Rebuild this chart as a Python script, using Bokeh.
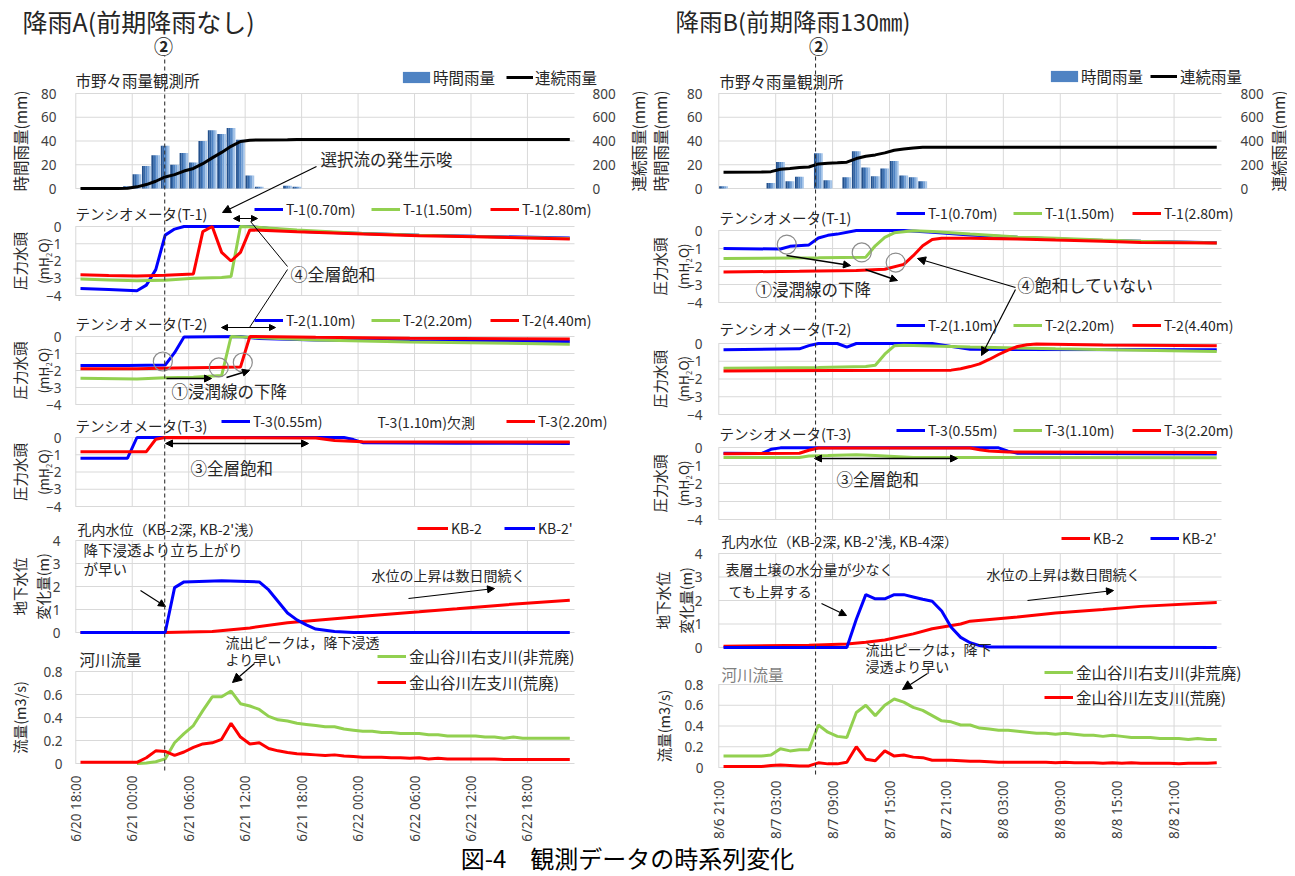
import math
from bokeh.plotting import figure
from bokeh.models import (Range1d, LinearAxis, FixedTicker, Label, Arrow, NormalHead,
                          Legend, LegendItem, NumeralTickFormatter)
from bokeh.core.properties import value
from bokeh.embed import file_html
from bokeh.resources import INLINE

JP = "Noto Sans CJK JP"
NUM = "Noto Sans"
TXT = "#262626"
GRID = "#D9D9D9"
BLUE, GREEN, RED = "#0000FF", "#92D050", "#FF0000"
BAR_SHADES = ["#23508c", "#3568a8", "#4f83c3", "#76a2d6", "#a6c5e9"]

# ---------------- categories / ticks ----------------
X_TICKS = [0, 6, 12, 18, 24, 30, 36, 42, 48]
A_TICK_LABELS = ["6/20 18:00", "6/21 00:00", "6/21 06:00", "6/21 12:00", "6/21 18:00",
                 "6/22 00:00", "6/22 06:00", "6/22 12:00", "6/22 18:00"]
B_TICK_LABELS = ["8/6 21:00", "8/7 03:00", "8/7 09:00", "8/7 15:00", "8/7 21:00",
                 "8/8 03:00", "8/8 09:00", "8/8 15:00", "8/8 21:00"]
X_LO, X_HI = -0.03, 53.0
ALL_HOURS = list(range(53))

RAIN_TICKS = [0, 20, 40, 60, 80]
CUM_TICKS = [0, 200, 400, 600, 800]
T_TICKS = [-4, -3, -2, -1, 0]
GW_TICKS = [0, 1, 2, 3, 4]
Q_TICKS = [0, 0.2, 0.4, 0.6, 0.8]

# ---------------- rainfall A ----------------
A_RAIN_IDX = [5, 6, 7, 8, 9, 10, 11, 12, 13, 14, 15, 16, 17, 18, 19, 22, 23]
A_RAIN_MM = [2, 12, 19, 28, 36, 20, 30, 22, 40, 49, 46, 51, 41, 11, 1.5, 2.3, 1.5]
A_CUM_IDX = [0, 4, 5, 6, 7, 8, 9, 10, 11, 12, 13, 14, 15, 16, 17, 18, 19, 22, 23, 52]
A_CUM_MM = [0, 0, 2, 14, 33, 61, 97, 117, 147, 169, 209, 258, 304, 355, 396, 407, 409, 411, 413, 413]

# ---------------- tensiometers A ----------------
A_T1_070_IDX = [0, 3, 6, 7, 8, 9, 10, 11, 18, 23, 30, 36, 42, 52]
A_T1_070_VAL = [-3.6, -3.65, -3.72, -3.4, -2.5, -0.5, -0.15, 0, 0, -0.28, -0.4, -0.5, -0.57, -0.66]
A_T1_150_IDX = [0, 3, 6, 9, 12, 15, 16, 17, 18, 23, 30, 36, 42, 52]
A_T1_150_VAL = [-3.05, -3.1, -3.15, -3.12, -3.0, -2.95, -2.9, 0, -0.02, -0.2, -0.4, -0.5, -0.58, -0.7]
A_T1_280_IDX = [0, 3, 6, 9, 12, 13, 14, 15, 16, 17, 18, 23, 30, 36, 42, 52]
A_T1_280_VAL = [-2.8, -2.84, -2.87, -2.82, -2.75, -0.3, 0, -1.5, -2.0, -1.5, -0.2, -0.3, -0.43, -0.53, -0.6, -0.72]

A_T2_110_IDX = [0, 5, 9, 10, 11, 17, 19, 25, 35, 52]
A_T2_110_VAL = [-1.7, -1.7, -1.68, -0.95, -0.03, 0, -0.12, -0.2, -0.25, -0.3]
A_T2_220_IDX = [0, 6, 9, 12, 15, 16, 18, 25, 35, 52]
A_T2_220_VAL = [-2.45, -2.5, -2.42, -2.4, -2.3, 0, -0.05, -0.2, -0.32, -0.45]
A_T2_440_IDX = [0, 6, 10, 14, 17, 18, 25, 35, 52]
A_T2_440_VAL = [-1.9, -1.9, -1.85, -1.82, -1.8, 0, -0.05, -0.1, -0.15]

A_T3_055_IDX = [0, 5, 6, 28, 29, 30, 40, 52]
A_T3_055_VAL = [-1.2, -1.2, 0, 0, -0.12, -0.3, -0.33, -0.35]
A_T3_220_IDX = [0, 7, 8, 9, 25, 27, 30, 52]
A_T3_220_VAL = [-0.82, -0.82, -0.1, 0, -0.03, -0.18, -0.24, -0.26]

# ---------------- groundwater A ----------------
A_KB2_IDX = [0, 9, 14, 18, 22, 27, 31, 36, 40, 45, 52]
A_KB2_VAL = [0, 0, 0.04, 0.2, 0.42, 0.6, 0.74, 0.9, 1.03, 1.2, 1.4]
A_KB2S_IDX = [0, 9, 10, 11, 15, 19, 20, 21, 22, 23, 24, 25, 27, 29, 52]
A_KB2S_VAL = [0, 0, 1.95, 2.2, 2.25, 2.2, 1.85, 1.35, 0.85, 0.55, 0.33, 0.15, 0.04, 0, 0]

# ---------------- river A ----------------
A_QR_IDX = list(range(6, 53))
A_QR_VAL = [0.0, 0.005, 0.015, 0.04, 0.18, 0.26, 0.33, 0.46, 0.58, 0.58, 0.63, 0.52, 0.5, 0.47,
            0.41, 0.38, 0.37, 0.35, 0.34, 0.33, 0.32, 0.32, 0.3, 0.29, 0.28, 0.28, 0.27, 0.27,
            0.26, 0.26, 0.26, 0.25, 0.25, 0.24, 0.24, 0.24, 0.24, 0.23, 0.23, 0.22, 0.23, 0.22,
            0.22, 0.22, 0.22, 0.22, 0.22]
A_QL_VAL = [0.01, 0.01, 0.01, 0.01, 0.01, 0.01, 0.01, 0.05, 0.11, 0.105, 0.07, 0.1, 0.14, 0.17,
            0.18, 0.21, 0.35, 0.23, 0.17, 0.18, 0.13, 0.11, 0.095, 0.085, 0.08, 0.075, 0.07,
            0.075, 0.065, 0.06, 0.055, 0.055, 0.055, 0.05, 0.05, 0.045, 0.05, 0.04, 0.045, 0.04,
            0.04, 0.04, 0.04, 0.04, 0.04, 0.035, 0.035, 0.035, 0.035, 0.035, 0.035, 0.035, 0.035]

# ---------------- rainfall B ----------------
B_RAIN_IDX = [0, 5, 6, 7, 8, 10, 11, 13, 14, 15, 16, 17, 18, 19, 20, 21]
B_RAIN_MM = [2, 4.6, 22.4, 6.2, 10, 29.7, 7, 9.5, 31.4, 17.6, 10.3, 16.8, 23.2, 11, 9.5, 6.2]
B_CUM_IDX = [0, 4, 5, 6, 7, 8, 9, 10, 11, 12, 13, 14, 15, 16, 17, 18, 19, 20, 21, 52]
B_CUM_MM = [137, 138, 142, 162, 168, 177, 181, 207, 213, 216, 222, 252, 271, 283, 300, 322, 333, 342, 347, 347]

# ---------------- tensiometers B ----------------
B_T1_070_IDX = [0, 6, 7, 9, 10, 11, 12, 14, 19, 22, 26, 31, 35, 40, 44, 52]
B_T1_070_VAL = [-1.0, -1.03, -0.88, -0.8, -0.42, -0.27, -0.2, 0, 0, -0.1, -0.25, -0.38, -0.47, -0.55, -0.6, -0.68]
B_T1_150_IDX = [0, 10, 15, 16, 17, 18, 20, 22, 26, 31, 35, 40, 44, 52]
B_T1_150_VAL = [-1.55, -1.52, -1.48, -0.85, -0.38, -0.13, -0.02, -0.06, -0.2, -0.36, -0.43, -0.53, -0.6, -0.7]
B_T1_280_IDX = [0, 8, 14, 17, 19, 20, 21, 22, 23, 26, 31, 35, 40, 44, 52]
B_T1_280_VAL = [-2.3, -2.27, -2.22, -2.15, -1.88, -1.4, -0.85, -0.5, -0.43, -0.43, -0.47, -0.53, -0.6, -0.66, -0.7]

B_T2_110_IDX = [0, 8, 9, 10, 12, 13, 14, 22, 26, 52]
B_T2_110_VAL = [-0.35, -0.3, -0.12, 0, 0, -0.2, 0, 0, -0.33, -0.35]
B_T2_220_IDX = [0, 10, 15, 16, 17, 18, 19, 26, 35, 44, 52]
B_T2_220_VAL = [-1.4, -1.35, -1.3, -1.22, -0.6, -0.13, -0.1, -0.2, -0.3, -0.38, -0.45]
B_T2_440_IDX = [0, 12, 24, 25, 26, 27, 28, 29, 30, 31, 32, 33, 40, 52]
B_T2_440_VAL = [-1.55, -1.52, -1.5, -1.42, -1.3, -1.15, -0.9, -0.62, -0.37, -0.17, -0.07, -0.03, -0.08, -0.12]

B_T3_055_IDX = [0, 4, 5, 6, 29, 30, 31, 52]
B_T3_055_VAL = [-0.32, -0.34, -0.1, -0.02, -0.02, -0.2, -0.32, -0.36]
B_T3_110_IDX = [0, 8, 9, 11, 14, 16, 20, 52]
B_T3_110_VAL = [-0.55, -0.55, -0.47, -0.45, -0.4, -0.45, -0.55, -0.57]
B_T3_220_IDX = [0, 8, 9, 10, 26, 27, 28, 30, 52]
B_T3_220_VAL = [-0.35, -0.32, -0.15, -0.03, -0.03, -0.12, -0.19, -0.25, -0.28]

# ---------------- groundwater B ----------------
B_KB2_IDX = [0, 9, 13, 15, 17, 20, 22, 25, 26, 31, 35, 40, 44, 52]
B_KB2_VAL = [0.05, 0.1, 0.15, 0.22, 0.32, 0.58, 0.8, 1.0, 1.12, 1.3, 1.47, 1.62, 1.75, 1.91]
B_KB2S_IDX = [0, 13, 14, 15, 16, 17, 18, 19, 20, 21, 22, 23, 24, 25, 26, 27, 28, 52]
B_KB2S_VAL = [0, 0, 1.2, 2.25, 2.07, 2.07, 2.25, 2.25, 2.15, 2.05, 1.97, 1.55, 0.86, 0.43, 0.2, 0.08, 0.02, 0]

# ---------------- river B ----------------
B_QR_VAL = [0.11, 0.11, 0.11, 0.11, 0.11, 0.12, 0.18, 0.16, 0.17, 0.17, 0.41, 0.34, 0.3, 0.29,
            0.53, 0.6, 0.5, 0.6, 0.66, 0.63, 0.58, 0.55, 0.5, 0.45, 0.44, 0.41, 0.41, 0.38, 0.37,
            0.36, 0.36, 0.35, 0.34, 0.33, 0.33, 0.32, 0.33, 0.32, 0.31, 0.31, 0.3, 0.31, 0.3,
            0.29, 0.29, 0.29, 0.28, 0.28, 0.28, 0.27, 0.28, 0.27, 0.27]
B_QL_VAL = [0.01, 0.01, 0.01, 0.01, 0.01, 0.02, 0.025, 0.02, 0.015, 0.015, 0.045, 0.035, 0.035,
            0.05, 0.2, 0.08, 0.065, 0.16, 0.11, 0.12, 0.1, 0.095, 0.07, 0.07, 0.07, 0.065, 0.06,
            0.06, 0.055, 0.05, 0.05, 0.05, 0.05, 0.05, 0.05, 0.045, 0.05, 0.045, 0.045, 0.045,
            0.04, 0.045, 0.04, 0.045, 0.04, 0.04, 0.04, 0.04, 0.035, 0.04, 0.04, 0.04, 0.045]

# ---------------- annotation anchors (data units) ----------------
A_DASH_POS = 9.45
B_DASH_POS = 10.2
A_RING_POS = [9.25, 15.2, 17.75]
A_RING_VAL = [-1.47, -1.82, -1.53]
B_RING_POS = [7.17, 15.07, 18.65]
B_RING_VAL = [-0.78, -1.22, -1.78]

# ---------------- picture geometry (pixels) ----------------
OX, OY = 0, 0
W, H = 1287, 876
COLS = {"A": (75, 574), "B": (718, 1221)}
BANDS = {
    "A": {"rain": (93, 188), "t1": (226, 295), "t2": (336, 404), "t3": (437, 506),
          "gw": (540, 632), "q": (671, 763)},
    "B": {"rain": (93, 188), "t1": (230, 302), "t2": (343, 414), "t3": (447, 519),
          "gw": (553, 647), "q": (684, 767)},
}
XN = {"A": "default", "B": "B"}


def sx(px):
    return px - OX


def sy(py):
    return OY + H - py


def xrange_for(col):
    fl, fr = COLS[col]
    k = (fr - fl) / (X_HI - X_LO)
    return Range1d(X_LO - (fl - OX) / k, X_HI + (OX + W - fr) / k)


def yrange_for(col, key, ylo, yhi):
    ft, fb = BANDS[col][key]
    k = (fb - ft) / (yhi - ylo)
    return Range1d(ylo - (OY + H - fb) / k, yhi + (ft - OY) / k)


def page_x(col, pos):
    fl, fr = COLS[col]
    return fl + (pos - X_LO) * (fr - fl) / (X_HI - X_LO)


p = figure(width=W, height=H, x_range=xrange_for("A"), y_range=Range1d(0, H),
           x_axis_location=None, y_axis_location=None, toolbar_location=None,
           output_backend="svg", title=None, min_border=0)
p.outline_line_color = None
p.background_fill_color = "white"
p.border_fill_color = "white"
p.xgrid.grid_line_color = None
p.ygrid.grid_line_color = None
p.xgrid.visible = False
p.ygrid.visible = False
p.extra_x_ranges = {"B": xrange_for("B")}


def cat(idx):
    return [i + 0.5 for i in idx]


def style_axis(ax, standoff):
    ax.axis_line_color = None
    ax.major_tick_line_color = None
    ax.minor_tick_line_color = None
    ax.major_tick_out = 0
    ax.major_tick_in = 0
    ax.minor_tick_out = 0
    ax.minor_tick_in = 0
    ax.major_label_standoff = standoff
    ax.major_label_text_font = NUM
    ax.major_label_text_font_size = "13.5px"
    ax.major_label_text_color = "#404040"


def add_range(name, rng):
    ranges = dict(p.extra_y_ranges)
    ranges[name] = rng
    p.extra_y_ranges = ranges


def panel(col, key, ylo, yhi, yticks, standoff, fmt=None):
    rn = f"{col}_{key}"
    add_range(rn, yrange_for(col, key, ylo, yhi))
    n = len(yticks)
    p.segment(x0=[X_LO] * n, y0=yticks, x1=[X_HI] * n, y1=yticks, x_range_name=XN[col],
              y_range_name=rn, line_color=GRID, line_width=1, level="underlay")
    m = len(X_TICKS)
    p.segment(x0=X_TICKS, y0=[ylo] * m, x1=X_TICKS, y1=[yhi] * m, x_range_name=XN[col],
              y_range_name=rn, line_color=GRID, line_width=1, level="underlay")
    ax = LinearAxis(x_range_name=XN[col], y_range_name=rn, fixed_location=X_LO,
                    ticker=FixedTicker(ticks=yticks))
    style_axis(ax, standoff)
    if fmt is not None:
        ax.formatter = fmt
    p.add_layout(ax, "left")
    return rn


def txt(px, py, text, size="14px", align="left", color=TXT, bold=False, angle=0.0):
    p.add_layout(Label(x=sx(px), y=sy(py), x_units="screen", y_units="screen", text=text,
                       text_font=JP, text_font_size=size, text_align=align,
                       text_baseline="middle", text_color=color, angle=angle,
                       text_font_style="bold" if bold else "normal"))


def ytitle(px, band, text, size="15px"):
    ft, fb = band
    txt(px, (ft + fb) / 2, text, size=size, align="center", angle=math.pi / 2)


def arr(x1, y1, x2, y2, end=True, start=False, size=8, width=1.2, color="black", dash="solid"):
    def head():
        return NormalHead(size=size, fill_color=color, line_color=color, line_width=1)

    p.add_layout(Arrow(x_start=sx(x1), y_start=sy(y1), x_end=sx(x2), y_end=sy(y2),
                       start_units="screen", end_units="screen",
                       start=head() if start else None, end=head() if end else None,
                       line_color=color, line_width=width, line_dash=dash))


def leg(renderer, text, ix, iy, gw=29, gh=20, size="14px", standoff=3):
    h = 20
    lg = Legend(items=[LegendItem(label=value(text), renderers=[renderer])],
                location=(sx(ix), sy(iy) - h / 2), orientation="vertical",
                glyph_width=gw, glyph_height=gh, label_height=h, label_width=10,
                label_standoff=standoff, padding=0, margin=0, spacing=0,
                border_line_color=None, background_fill_alpha=0,
                label_text_font=JP, label_text_font_size=size, label_text_color=TXT)
    p.add_layout(lg)


def lines(col, rn, series):
    out = []
    for idx, val, color in series:
        out.append(p.line(x=cat(idx), y=val, line_color=color, line_width=3,
                          x_range_name=XN[col], y_range_name=rn))
    return out


def rain_panel(col, idx, mm, cidx, cmm, standoff_l, standoff_r):
    rn = panel(col, "rain", 0, 80, RAIN_TICKS, standoff_l)
    cn = f"{col}_cum"
    add_range(cn, yrange_for(col, "rain", 0, 800))
    ax2 = LinearAxis(x_range_name=XN[col], y_range_name=cn, fixed_location=X_HI,
                     ticker=FixedTicker(ticks=CUM_TICKS))
    style_axis(ax2, standoff_r)
    p.add_layout(ax2, "right")
    bw = 0.92 / len(BAR_SHADES)
    bars = []
    for k, c in enumerate(BAR_SHADES):
        xs = [i + 0.5 - 0.46 + bw * (k + 0.5) for i in idx]
        bars.append(p.vbar(x=xs, top=mm, bottom=0, width=bw * 1.06, fill_color=c,
                           line_color=None, x_range_name=XN[col], y_range_name=rn))
    ln = p.line(x=cat(cidx), y=cmm, line_color="black", line_width=3,
                x_range_name=XN[col], y_range_name=cn)
    return bars, ln


def x_axis(col, labels, standoff):
    xa = LinearAxis(x_range_name=XN[col], y_range_name=f"{col}_q", fixed_location=0,
                    ticker=FixedTicker(ticks=X_TICKS),
                    major_label_overrides=dict(zip(X_TICKS, labels)),
                    major_label_orientation=math.pi / 2)
    style_axis(xa, standoff)
    p.add_layout(xa, "below")


# =============================== column A ===============================
BA = BANDS["A"]
a_bars, a_cum = rain_panel("A", A_RAIN_IDX, A_RAIN_MM, A_CUM_IDX, A_CUM_MM, 19, 18)
ytitle(19, BA["rain"], "時間雨量(mm)", size="15.5px")
ytitle(637, BA["rain"], "連続雨量(mm)", size="15.5px")
txt(22, 20, "降雨A(前期降雨なし)", size="25px")
txt(163, 45, "②", size="19px", align="center", bold=True)
txt(75, 79, "市野々雨量観測所", size="15.5px")
leg(a_bars[2], "時間雨量", 399, 78, gw=34, gh=14, size="15.5px", standoff=0)
leg(a_cum, "連続雨量", 506, 78, gw=27, size="15.5px", standoff=2)
txt(320, 158, "選択流の発生示唆", size="16.5px")
arr(316, 166, 222, 212, size=8)

rn = panel("A", "t1", -4, 0, T_TICKS, 14)
r = lines("A", rn, [(A_T1_070_IDX, A_T1_070_VAL, BLUE), (A_T1_150_IDX, A_T1_150_VAL, GREEN),
                    (A_T1_280_IDX, A_T1_280_VAL, RED)])
ytitle(19, BA["t1"], "圧力水頭", size="14.5px")
ytitle(42, BA["t1"], "(mH₂O)", size="13.5px")
txt(75, 213, "テンシオメータ(T-1)", size="14.5px")
leg(r[0], "T-1(0.70m)", 254, 209)
leg(r[1], "T-1(1.50m)", 371, 209)
leg(r[2], "T-1(2.80m)", 490, 209)
arr(233, 218, 257, 218, start=True, size=6)
txt(290, 273, "④全層飽和", size="17px")
arr(287, 266, 250, 221, end=False, width=1)
arr(287, 269, 249, 327, end=False, width=1)

rn = panel("A", "t2", -4, 0, T_TICKS, 14)
r = lines("A", rn, [(A_T2_110_IDX, A_T2_110_VAL, BLUE), (A_T2_220_IDX, A_T2_220_VAL, GREEN),
                    (A_T2_440_IDX, A_T2_440_VAL, RED)])
p.scatter(x=A_RING_POS, y=A_RING_VAL, marker="circle", size=19, fill_alpha=0,
          line_color="#8c8c8c", line_width=1.2, x_range_name="default", y_range_name=rn)
ytitle(19, BA["t2"], "圧力水頭", size="14.5px")
ytitle(42, BA["t2"], "(mH₂O)", size="13.5px")
txt(75, 323, "テンシオメータ(T-2)", size="14.5px")
leg(r[0], "T-2(1.10m)", 254, 320)
leg(r[1], "T-2(2.20m)", 371, 320)
leg(r[2], "T-2(4.40m)", 490, 320)
arr(221, 327, 275, 327, start=True, size=6)
arr(166, 378, 211, 378, size=7, width=1.5)
arr(226, 377, 249, 370, size=7, width=1.5)
txt(171, 390, "①浸潤線の下降", size="16.5px")

rn = panel("A", "t3", -4, 0, T_TICKS, 14)
r = lines("A", rn, [(A_T3_055_IDX, A_T3_055_VAL, BLUE), (A_T3_220_IDX, A_T3_220_VAL, RED)])
ytitle(19, BA["t3"], "圧力水頭", size="14.5px")
ytitle(42, BA["t3"], "(mH₂O)", size="13.5px")
txt(75, 425, "テンシオメータ(T-3)", size="14.5px")
leg(r[0], "T-3(0.55m)", 221, 421)
txt(377, 421, "T-3(1.10m)欠測", size="14px")
leg(r[1], "T-3(2.20m)", 506, 421)
arr(165, 443, 308, 443, start=True, size=7, width=1.5)
txt(190, 467, "③全層飽和", size="16.5px")

rn = panel("A", "gw", 0, 4, GW_TICKS, 15)
r = lines("A", rn, [(A_KB2_IDX, A_KB2_VAL, RED), (A_KB2S_IDX, A_KB2S_VAL, BLUE)])
ytitle(19, BA["gw"], "地下水位", size="14.5px")
ytitle(42, BA["gw"], "変化量(m)", size="14.5px")
txt(77, 528, "孔内水位（KB-2深, KB-2'浅）", size="14px")
leg(r[0], "KB-2", 417, 528, gw=31)
leg(r[1], "KB-2'", 504, 528, gw=31)
txt(83, 549, "降下浸透より立ち上がり", size="14.5px")
txt(83, 568, "が早い", size="14.5px")
arr(140, 590, 165, 606, size=7)
txt(371, 574, "水位の上昇は数日間続く", size="14px")
arr(408, 598, 494, 588, size=7)

rn = panel("A", "q", 0, 0.8, Q_TICKS, 13, fmt=NumeralTickFormatter(format="0.[0]"))
rq_g = p.line(x=cat(A_QR_IDX), y=A_QR_VAL, line_color=GREEN, line_width=3, y_range_name=rn)
rq_r = p.line(x=cat(ALL_HOURS), y=A_QL_VAL, line_color=RED, line_width=3, y_range_name=rn)
x_axis("A", A_TICK_LABELS, 12)
ytitle(19, BA["q"], "流量(m3/s)", size="14.5px")
txt(225, 641, "流出ピークは，降下浸透", size="14px")
txt(225, 658, "より早い", size="14px")
arr(254, 663, 232, 682, size=9)
txt(79, 658, "河川流量", size="15.5px")
leg(rq_g, "金山谷川右支川(非荒廃)", 377, 657, size="15.5px")
leg(rq_r, "金山谷川左支川(荒廃)", 377, 683, size="15.5px")

xd = page_x("A", A_DASH_POS)
arr(xd, 770, xd, 55, end=False, width=1.1, color="#333333", dash="4 3")

# =============================== column B ===============================
BB = BANDS["B"]
b_bars, b_cum = rain_panel("B", B_RAIN_IDX, B_RAIN_MM, B_CUM_IDX, B_CUM_MM, 16, 19)
ytitle(659, BB["rain"], "時間雨量(mm)", size="15.5px")
ytitle(1277, BB["rain"], "連続雨量(mm)", size="15.5px")
txt(675, 20, "降雨B(前期降雨130㎜)", size="23.5px")
txt(818, 45, "②", size="19px", align="center", bold=True)
txt(719, 80, "市野々雨量観測所", size="15.5px")
leg(b_bars[2], "時間雨量", 1047, 77, gw=34, gh=14, size="15.5px", standoff=0)
leg(b_cum, "連続雨量", 1150, 77, gw=27, size="15.5px", standoff=3)

rn = panel("B", "t1", -4, 0, T_TICKS, 16)
r = lines("B", rn, [(B_T1_070_IDX, B_T1_070_VAL, BLUE), (B_T1_150_IDX, B_T1_150_VAL, GREEN),
                    (B_T1_280_IDX, B_T1_280_VAL, RED)])
p.scatter(x=B_RING_POS, y=B_RING_VAL, marker="circle", size=19, fill_alpha=0,
          line_color="#8c8c8c", line_width=1.2, x_range_name="B", y_range_name=rn)
ytitle(659, BB["t1"], "圧力水頭", size="14.5px")
ytitle(682, BB["t1"], "(mH₂O)", size="13.5px")
txt(719, 217, "テンシオメータ(T-1)", size="14.5px")
leg(r[0], "T-1(0.70m)", 896, 213)
leg(r[1], "T-1(1.50m)", 1013, 213)
leg(r[2], "T-1(2.80m)", 1132, 213)
arr(786, 255, 850, 265, size=7, width=1.5)
arr(865, 269, 897, 280, size=7, width=1.5)
txt(755, 288, "①浸潤線の下降", size="16.5px")
txt(1017, 284, "④飽和していない", size="17px")
arr(1015, 287, 917, 258, size=8)
arr(1015, 289, 981, 355, size=8)

rn = panel("B", "t2", -4, 0, T_TICKS, 16)
r = lines("B", rn, [(B_T2_110_IDX, B_T2_110_VAL, BLUE), (B_T2_220_IDX, B_T2_220_VAL, GREEN),
                    (B_T2_440_IDX, B_T2_440_VAL, RED)])
ytitle(659, BB["t2"], "圧力水頭", size="14.5px")
ytitle(682, BB["t2"], "(mH₂O)", size="13.5px")
txt(719, 328, "テンシオメータ(T-2)", size="14.5px")
leg(r[0], "T-2(1.10m)", 896, 325)
leg(r[1], "T-2(2.20m)", 1013, 325)
leg(r[2], "T-2(4.40m)", 1132, 325)

rn = panel("B", "t3", -4, 0, T_TICKS, 16)
r = lines("B", rn, [(B_T3_055_IDX, B_T3_055_VAL, BLUE), (B_T3_110_IDX, B_T3_110_VAL, GREEN),
                    (B_T3_220_IDX, B_T3_220_VAL, RED)])
ytitle(659, BB["t3"], "圧力水頭", size="14.5px")
ytitle(682, BB["t3"], "(mH₂O)", size="13.5px")
txt(719, 433, "テンシオメータ(T-3)", size="14.5px")
leg(r[0], "T-3(0.55m)", 896, 430)
leg(r[1], "T-3(1.10m)", 1013, 430)
leg(r[2], "T-3(2.20m)", 1132, 430)
arr(814, 458, 957, 458, start=True, size=7, width=1.5)
txt(836, 478, "③全層飽和", size="16.5px")

rn = panel("B", "gw", 0, 4, GW_TICKS, 16)
r = lines("B", rn, [(B_KB2_IDX, B_KB2_VAL, RED), (B_KB2S_IDX, B_KB2S_VAL, BLUE)])
ytitle(662, BB["gw"], "地下水位", size="14.5px")
ytitle(685, BB["gw"], "変化量(m)", size="14.5px")
txt(721, 540, "孔内水位（KB-2深, KB-2'浅, KB-4深）", size="14px")
leg(r[0], "KB-2", 1061, 538)
leg(r[1], "KB-2'", 1150, 538)
txt(725, 568, "表層土壌の水分量が少なく", size="14px")
txt(728, 590, "ても上昇する", size="14px")
arr(821, 603, 846, 615, size=7)
txt(986, 573, "水位の上昇は数日間続く", size="14px")
arr(1027, 600, 1113, 590, size=7)

rn = panel("B", "q", 0, 0.8, Q_TICKS, 15, fmt=NumeralTickFormatter(format="0.[0]"))
bq_g = p.line(x=cat(ALL_HOURS), y=B_QR_VAL, line_color=GREEN, line_width=3,
              x_range_name="B", y_range_name=rn)
bq_r = p.line(x=cat(ALL_HOURS), y=B_QL_VAL, line_color=RED, line_width=3,
              x_range_name="B", y_range_name=rn)
x_axis("B", B_TICK_LABELS, 13)
ytitle(663, BB["q"], "流量(m3/s)", size="14.5px")
txt(865, 648, "流出ピークは，降下", size="14px")
txt(865, 665, "浸透より早い", size="14px")
arr(927, 673, 902, 689, size=9)
txt(721, 673, "河川流量", size="15.5px", color="#7f7f7f")
leg(bq_g, "金山谷川右支川(非荒廃)", 1044, 673, size="15.5px")
leg(bq_r, "金山谷川左支川(荒廃)", 1044, 698, size="15.5px")

xd = page_x("B", B_DASH_POS)
arr(xd, 774, xd, 55, end=False, width=1.1, color="#333333", dash="4 3")

# =============================== caption ===============================
txt(627, 857, "図-4　観測データの時系列変化", size="24px", align="center", color="black")

with open("out.html", "w", encoding="utf-8") as f:
    f.write(file_html(p, INLINE, title="観測データの時系列変化"))
